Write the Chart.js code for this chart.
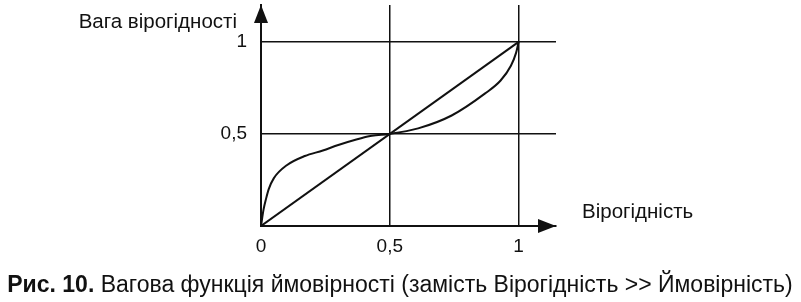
<!DOCTYPE html>
<html>
<head>
<meta charset="utf-8">
<script src="https://cdn.jsdelivr.net/npm/chart.js@4/dist/chart.umd.min.js"></script>
<style>
  html, body { margin: 0; padding: 0; background: #fff; }
  #wrap { width: 801px; height: 302px; position: relative; }
</style>
</head>
<body>
<div id="wrap"><canvas id="chart" width="801" height="302"></canvas></div>
<script>
// ========================
// Дані
// ========================
const probX   = [0, 0.01, 0.02, 0.03, 0.05, 0.1, 0.17, 0.24, 0.3, 0.37, 0.43, 0.5, 0.61, 0.74, 0.87, 0.93, 0.97, 0.99, 1];
const weightY = [0, 0.09, 0.15, 0.2, 0.26, 0.33, 0.38, 0.41, 0.44, 0.47, 0.49, 0.5, 0.53, 0.6, 0.72, 0.79, 0.87, 0.94, 1];
const diagX = [0, 1];
const diagY = [0, 1];
const tickValues = [0, 0.5, 1];

const yTitle = "Вага вірогідності";
const xTitle = "Вірогідність";
const captionBold = "Рис. 10.";
const captionText = " Вагова функція ймовірності (замість Вірогідність >> Ймовірність)";

const FONT = "'Liberation Sans', Arial, sans-serif";
const INK = "#111";

function toPoints(xs, ys) {
  return xs.map((x, i) => ({ x: x, y: ys[i] }));
}

// ========================
// Стрілки, підписи осей і підпис рисунка
// ========================
const decorPlugin = {
  id: "decor",
  afterDraw(chart) {
    const ctx = chart.ctx;
    const xs = chart.scales.x, ys = chart.scales.y;
    const x0 = xs.getPixelForValue(0);
    const y0 = ys.getPixelForValue(0);
    const top = chart.chartArea.top;
    const right = chart.chartArea.right;
    ctx.save();
    ctx.fillStyle = INK;
    // стрілка осі Y
    ctx.beginPath();
    ctx.moveTo(x0, top);
    ctx.lineTo(x0 - 7, top + 18);
    ctx.lineTo(x0 + 7, top + 18);
    ctx.closePath();
    ctx.fill();
    // стрілка осі X
    ctx.beginPath();
    ctx.moveTo(right, y0);
    ctx.lineTo(right - 18, y0 - 7);
    ctx.lineTo(right - 18, y0 + 7);
    ctx.closePath();
    ctx.fill();

    ctx.textBaseline = "alphabetic";
    ctx.font = "20.5px " + FONT;
    ctx.textAlign = "right";
    ctx.fillText(yTitle, 237, 28);
    ctx.textAlign = "left";
    ctx.fillText(xTitle, 582, 218);

    // підпис рисунка
    ctx.font = "bold 23px " + FONT;
    const wb = ctx.measureText(captionBold).width;
    ctx.font = "23px " + FONT;
    const wn = ctx.measureText(captionText).width;
    let cx = 400 - (wb + wn) / 2;
    ctx.font = "bold 23px " + FONT;
    ctx.fillText(captionBold, cx, 292);
    ctx.font = "23px " + FONT;
    ctx.fillText(captionText, cx + wb, 292);
    ctx.restore();
  }
};

function fmt(v) {
  return String(v).replace(".", ",");
}

new Chart(document.getElementById("chart").getContext("2d"), {
  type: "scatter",
  data: {
    datasets: [
      {
        label: "Вага",
        data: toPoints(probX, weightY),
        showLine: true,
        borderColor: INK,
        borderWidth: 2,
        pointRadius: 0,
        cubicInterpolationMode: "monotone"
      },
      {
        label: "Діагональ",
        data: toPoints(diagX, diagY),
        showLine: true,
        borderColor: INK,
        borderWidth: 2,
        pointRadius: 0
      }
    ]
  },
  options: {
    responsive: false,
    animation: false,
    layout: { padding: { top: 5, right: 245, bottom: 0, left: 0 } },
    plugins: {
      legend: { display: false },
      tooltip: { enabled: false }
    },
    scales: {
      x: {
        type: "linear",
        min: 0,
        max: 1.145,
        afterBuildTicks: (s) => { s.ticks = tickValues.map(v => ({ value: v })); },
        afterFit: (s) => { s.height = 76; s.paddingLeft = 0; s.paddingRight = 0; },
        grid: { color: INK, lineWidth: 1.5, drawTicks: false },
        border: { display: true, color: INK, width: 2 },
        ticks: {
          color: INK,
          padding: 9,
          font: { family: FONT, size: 19 },
          callback: (v) => fmt(v)
        }
      },
      y: {
        type: "linear",
        min: 0,
        max: 1.2,
        afterBuildTicks: (s) => { s.ticks = tickValues.map(v => ({ value: v })); },
        afterFit: (s) => { s.width = 261; s.paddingTop = 0; s.paddingBottom = 0; },
        grid: { color: INK, lineWidth: 1.5, drawTicks: false },
        border: { display: true, color: INK, width: 2 },
        ticks: {
          color: INK,
          padding: 14,
          font: { family: FONT, size: 19 },
          callback: (v) => (v === 0 ? "" : fmt(v))
        }
      }
    }
  },
  plugins: [decorPlugin]
});
</script>
</body>
</html>
